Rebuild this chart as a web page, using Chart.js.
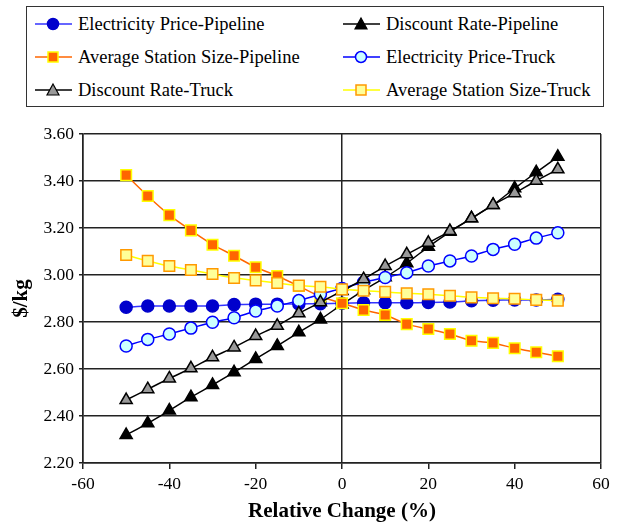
<!DOCTYPE html>
<html>
<head>
<meta charset="utf-8">
<script src="https://cdn.jsdelivr.net/npm/chart.js@4.4.1/dist/chart.umd.min.js"></script>
<style>
  body { margin: 0; background: #fff; }
  #wrap { position: relative; width: 619px; height: 528px; }
  #legend {
    position: absolute; left: 26px; top: 6px; width: 576px; height: 99px;
    border: 1.5px solid #333; background: #fff;
    font-family: "Liberation Serif", "Times New Roman", serif; font-size: 18.5px; color: #000;
  }
  .item { position: absolute; display: flex; align-items: center; white-space: nowrap; height: 22px; }
  .item svg { margin-right: 6px; }
</style>
</head>
<body>
<div id="wrap">
  <canvas id="chart" width="619" height="528"></canvas>
  <div id="legend"></div>
</div>
<script>
const relChange = [-50, -45, -40, -35, -30, -25, -20, -15, -10, -5, 0, 5, 10, 15, 20, 25, 30, 35, 40, 45, 50];

const elecPipeline = [2.863, 2.868, 2.868, 2.868, 2.868, 2.874, 2.876, 2.876, 2.877, 2.878, 2.880, 2.882, 2.882, 2.882, 2.883, 2.885, 2.890, 2.893, 2.894, 2.894, 2.897];
const discountPipeline = [2.319, 2.369, 2.423, 2.480, 2.532, 2.586, 2.643, 2.698, 2.756, 2.811, 2.875, 2.935, 2.990, 3.050, 3.120, 3.184, 3.241, 3.298, 3.369, 3.437, 3.503];
const stationPipeline = [3.425, 3.336, 3.255, 3.190, 3.129, 3.082, 3.033, 2.996, 2.953, 2.908, 2.880, 2.851, 2.830, 2.791, 2.770, 2.749, 2.720, 2.711, 2.688, 2.671, 2.654];
const elecTruck = [2.698, 2.726, 2.749, 2.774, 2.799, 2.818, 2.847, 2.868, 2.891, 2.918, 2.943, 2.969, 2.989, 3.010, 3.038, 3.060, 3.081, 3.109, 3.131, 3.157, 3.180];
const discountTruck = [2.468, 2.514, 2.560, 2.603, 2.650, 2.692, 2.740, 2.784, 2.837, 2.884, 2.932, 2.982, 3.038, 3.088, 3.137, 3.187, 3.241, 3.298, 3.348, 3.401, 3.450];
const stationTruck = [3.085, 3.060, 3.038, 3.021, 3.004, 2.987, 2.977, 2.966, 2.955, 2.950, 2.939, 2.933, 2.928, 2.922, 2.918, 2.912, 2.905, 2.901, 2.899, 2.894, 2.891];

const seriesNames = [
  'Electricity Price-Pipeline', 'Discount Rate-Pipeline',
  'Average Station Size-Pipeline', 'Electricity Price-Truck',
  'Discount Rate-Truck', 'Average Station Size-Truck'
];

const xTicks = [-60, -40, -20, 0, 20, 40, 60];
const yTicks = [2.20, 2.40, 2.60, 2.80, 3.00, 3.20, 3.40, 3.60];

// line, marker fill, marker border, marker shape
const looks = [
  { line: '#3333ff', fill: '#0000cc', edge: '#0000cc', shape: 'circle', r: 6 },
  { line: '#000000', fill: '#000000', edge: '#000000', shape: 'triangle', r: 7 },
  { line: '#ff6600', fill: '#ff6600', edge: '#ffff00', shape: 'rect', r: 7.5 },
  { line: '#0000ff', fill: '#ccffff', edge: '#0000ff', shape: 'circle', r: 6 },
  { line: '#000000', fill: '#999999', edge: '#000000', shape: 'triangle', r: 7 },
  { line: '#ffff00', fill: '#ffff99', edge: '#ff9900', shape: 'rect', r: 7.5 }
];

const allSeries = [elecPipeline, discountPipeline, stationPipeline, elecTruck, discountTruck, stationTruck];

const datasets = allSeries.map((vals, i) => ({
  label: seriesNames[i],
  data: vals.map((v, j) => ({ x: relChange[j], y: v })),
  borderColor: looks[i].line,
  borderWidth: 1.5,
  pointStyle: looks[i].shape,
  pointRadius: looks[i].r,
  pointBackgroundColor: looks[i].fill,
  pointBorderColor: looks[i].edge,
  pointBorderWidth: 1.5,
  tension: 0.2,
  order: 6 - i
}));

const serif = '"Liberation Serif", "Times New Roman", serif';

new Chart(document.getElementById('chart'), {
  type: 'line',
  data: { datasets },
  options: {
    responsive: false,
    animation: false,
    layout: { padding: { top: 134, right: 18, left: 0, bottom: 0 } },
    plugins: { legend: { display: false }, tooltip: { enabled: false } },
    scales: {
      x: {
        type: 'linear',
        min: -60, max: 60,
        afterBuildTicks: (s) => { s.ticks = xTicks.map(v => ({ value: v })); },
        afterFit: (s) => { s.height = 65; },
        ticks: { font: { family: serif, size: 17.5 }, color: '#000', padding: 5, maxRotation: 0 },
        grid: {
          color: (c) => (c.tick && [-60, 0, 60].includes(c.tick.value)) ? '#222' : 'rgba(0,0,0,0)',
          tickColor: '#222',
          lineWidth: 1.5,
          tickLength: 6
        },
        border: { color: '#222', width: 1.5 },
        title: {
          display: true, text: 'Relative Change (%)', color: '#000',
          font: { family: serif, size: 21, weight: 'bold' }, padding: { top: 2, bottom: 4 }
        }
      },
      y: {
        min: 2.2, max: 3.6,
        afterBuildTicks: (s) => { s.ticks = yTicks.map(v => ({ value: v })); },
        afterFit: (s) => { s.width = 83; },
        ticks: { font: { family: serif, size: 17.5 }, color: '#000', padding: 5, callback: (v) => v.toFixed(2) },
        grid: { color: '#222', tickColor: '#222', lineWidth: 1.5, tickLength: 4 },
        border: { color: '#222', width: 1.5 },
        title: {
          display: true, text: '$/kg', color: '#000',
          font: { family: serif, size: 21, weight: 'bold' }, padding: { top: 9, bottom: 4 }
        }
      }
    }
  }
});

// boxed two-column legend
function markerSvg(lk) {
  let m = '';
  if (lk.shape === 'circle') {
    m = `<circle cx="18" cy="8" r="5.5" fill="${lk.fill}" stroke="${lk.edge}" stroke-width="1.5"/>`;
  } else if (lk.shape === 'triangle') {
    m = `<polygon points="18,2 24,13 12,13" fill="${lk.fill}" stroke="${lk.edge}" stroke-width="1.2"/>`;
  } else {
    m = `<rect x="13" y="3" width="10" height="10" fill="${lk.fill}" stroke="${lk.edge}" stroke-width="1.5"/>`;
  }
  return `<svg width="37" height="16"><line x1="0" y1="8" x2="37" y2="8" stroke="${lk.line}" stroke-width="1.5"/>${m}</svg>`;
}

const legendEl = document.getElementById('legend');
seriesNames.forEach((name, i) => {
  const col = i % 2, row = Math.floor(i / 2);
  const d = document.createElement('div');
  d.className = 'item';
  d.style.left = (col === 0 ? 8 : 316) + 'px';
  d.style.top = (6 + row * 33) + 'px';
  d.innerHTML = markerSvg(looks[i]) + '<span>' + name + '</span>';
  legendEl.appendChild(d);
});
</script>
</body>
</html>
